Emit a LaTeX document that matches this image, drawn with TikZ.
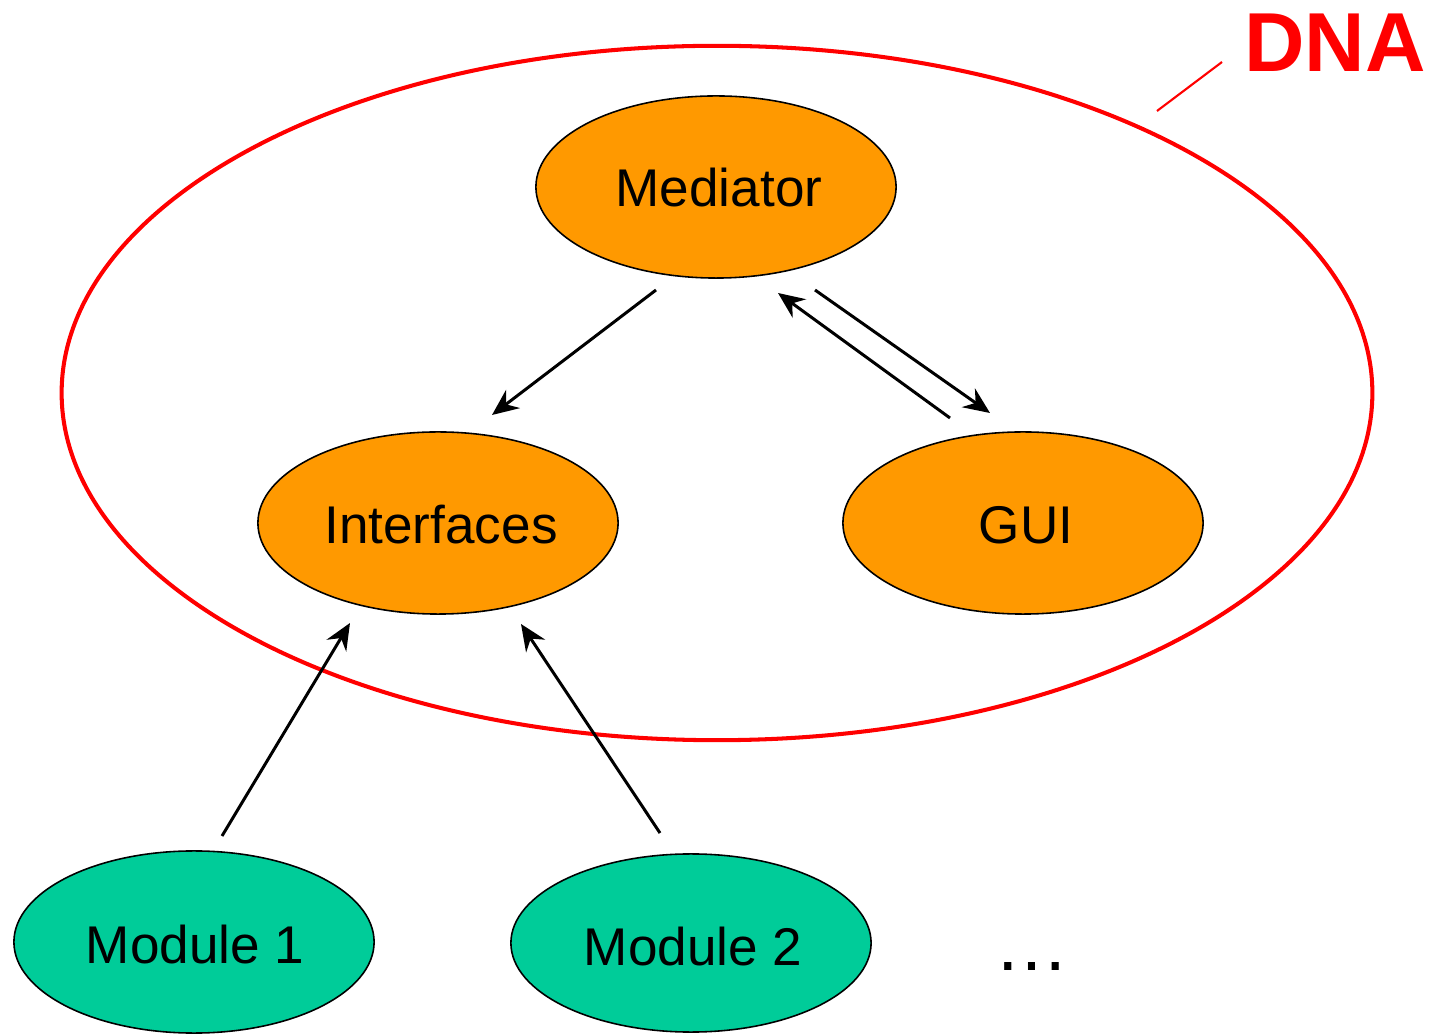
\documentclass[tikz,border=0pt]{standalone}
\usepackage{fontspec}
\setmainfont{Liberation Sans}
\usetikzlibrary{shapes.geometric,arrows.meta}
\definecolor{coreorange}{HTML}{FF9900}
\definecolor{modteal}{HTML}{00CC99}
\definecolor{dnared}{HTML}{FF0000}
\tikzset{
  part/.style={ellipse, draw=black, line width=0.45pt, inner sep=0pt,
    minimum width=3.6cm, minimum height=1.82cm},
  core/.style={part, fill=coreorange},
  module/.style={part, fill=modteal},
  label/.style={font=\fontsize{15.1pt}{18pt}\selectfont},
  flow/.style={line width=0.85pt, -{Stealth[length=7.5pt, width=6.5pt, inset=2.5pt]}},
}
\begin{document}
\begin{tikzpicture}[x=0.01cm, y=-0.01cm]
  \useasboundingbox (0,0) rectangle (1433,1034);

  % DNA boundary and its label
  \node[ellipse, draw=dnared, line width=1.15pt, inner sep=0pt,
        minimum width=13.1cm, minimum height=6.94cm] (dna) at (717,393) {};
  \node[text=dnared, font=\fontsize{23.8pt}{28pt}\selectfont\bfseries] (dnalabel) at (1335,43) {DNA};
  \coordinate (tagend) at (1222,62);
  \draw[dnared, line width=0.6pt] (1157,111) -- (tagend);

  % core components
  \node[core] (med) at (716,187) {};
  \node[label] at (719,188) {Mediator};
  \node[core] (intf) at (438,523) {};
  \node[label] at (441,525) {Interfaces};
  \node[core] (gui) at (1023,523) {};
  \node[label] at (1026,525) {GUI};

  % plug-in modules
  \node[module] (m1) at (194,942) {};
  \node[label] at (195,945) {Module 1};
  \node[module, minimum height=1.78cm] (m2) at (691,943) {};
  \node[label] at (693,947) {Module 2};
  \node[font=\fontsize{21.3pt}{24pt}\selectfont, anchor=base, inner sep=0pt] (more) at (1032,970) {…};

  % connections
  \draw[flow] ([shift={(-60,103)}]med.center) -- ([shift={(54,-108)}]intf.center);
  \draw[flow] ([shift={(-73,-105)}]gui.center) -- ([shift={(62,106)}]med.center);
  \draw[flow] ([shift={(99,103)}]med.center) -- ([shift={(-33,-110)}]gui.center);
  \draw[flow] ([shift={(28,-106)}]m1.center) -- ([shift={(-88,100)}]intf.center);
  \draw[flow] ([shift={(-31,-110)}]m2.center) -- ([shift={(83,101)}]intf.center);
\end{tikzpicture}
\end{document}
